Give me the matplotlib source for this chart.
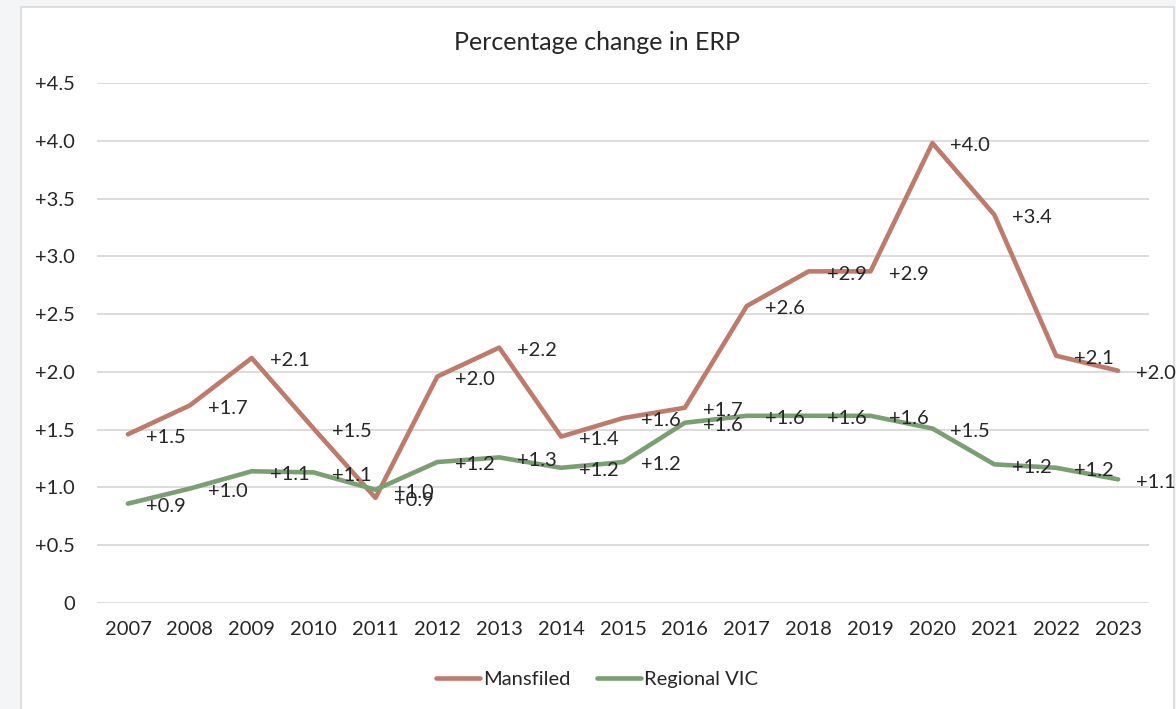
import matplotlib.pyplot as plt
from matplotlib.patches import Rectangle

years = ['2007', '2008', '2009', '2010', '2011', '2012', '2013', '2014', '2015',
         '2016', '2017', '2018', '2019', '2020', '2021', '2022', '2023']
mansfield = [1.46, 1.71, 2.12, 1.51, 0.91, 1.96, 2.21, 1.44, 1.60,
             1.69, 2.57, 2.87, 2.87, 3.98, 3.36, 2.14, 2.01]
regional_vic = [0.86, 0.99, 1.14, 1.13, 0.98, 1.22, 1.26, 1.17, 1.22,
                1.56, 1.62, 1.62, 1.62, 1.51, 1.20, 1.17, 1.07]
yticks = [0, 0.5, 1.0, 1.5, 2.0, 2.5, 3.0, 3.5, 4.0, 4.5]

plt.rcParams['font.family'] = ['Lato', 'DejaVu Sans']
FS = 14.5
TXT = '#262626'
GRID = '#D9D9D9'

fig = plt.figure(figsize=(11.76, 7.09), dpi=100)
fig.patch.set_facecolor('#F4F5F7')
# white chart panel, kept behind the axes
fig.patches.append(Rectangle((21 / 1176, -0.01), 1153 / 1176, 1 - 7 / 709 + 0.01,
                             transform=fig.transFigure, facecolor='white',
                             edgecolor=GRID, linewidth=1.2, zorder=-5))

ax = fig.add_axes([97 / 1176, 1 - 603 / 709, 1052 / 1176, 520 / 709])
ax.set_facecolor('none')
ax.set_zorder(2)

x = list(range(len(years)))
ax.plot(x, mansfield, color='#BE7A6B', linewidth=3.3, label='Mansfiled',
        solid_capstyle='round', zorder=3)
ax.plot(x, regional_vic, color='#7A9F73', linewidth=3.3, label='Regional VIC',
        solid_capstyle='round', zorder=3)

for series in (mansfield, regional_vic):
    for xi, v in zip(x, series):
        ax.annotate('+%.1f' % v, (xi, v), xytext=(13, -2), textcoords='offset points',
                    ha='left', va='center', fontsize=FS, color=TXT, zorder=4)

ax.set_xlim(-0.5, len(years) - 0.5)
ax.set_ylim(0, 4.5)
ax.set_xticks(x)
ax.set_xticklabels(years)
ax.set_yticks(yticks)
ax.set_yticklabels(['0' if t == 0 else '+%.1f' % t for t in yticks])
ax.tick_params(length=0, labelsize=FS, labelcolor=TXT)
ax.tick_params(axis='y', pad=16)
ax.tick_params(axis='x', pad=13)
ax.grid(axis='y', color=GRID, linewidth=1.3)
ax.set_axisbelow(True)
for spine in ax.spines.values():
    spine.set_visible(False)

fig.text(597 / 1176, 1 - 42 / 709, 'Percentage change in ERP', ha='center', va='center',
         fontsize=18, color=TXT)

fig.legend(loc='center', bbox_to_anchor=(597 / 1176, 1 - 679 / 709), ncol=2,
           frameon=False, fontsize=FS, handlelength=2.2, handletextpad=0.15,
           columnspacing=1.3, labelcolor=TXT)

fig.savefig('out.png', dpi=100, facecolor=fig.get_facecolor())
